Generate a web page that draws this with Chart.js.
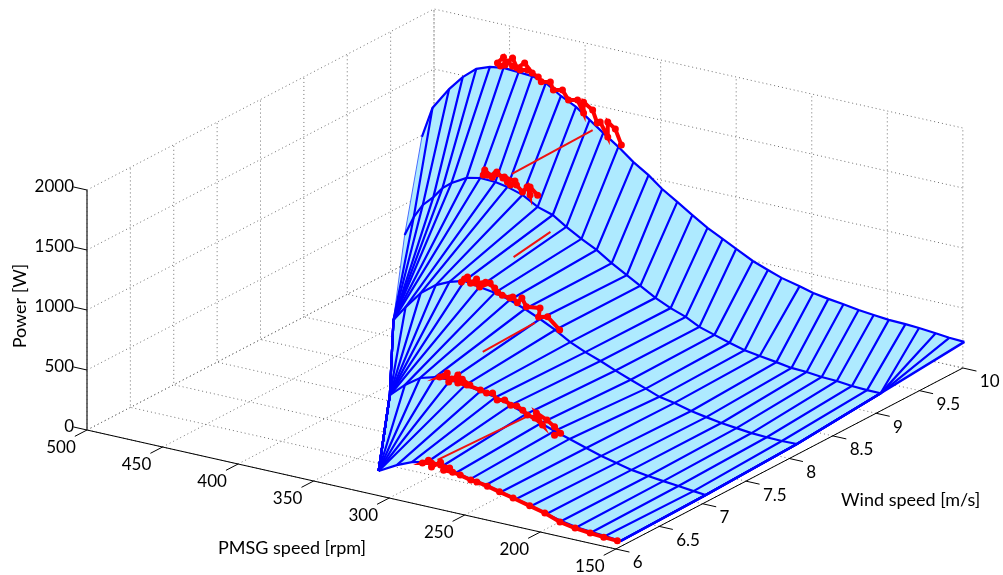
<!DOCTYPE html>
<html>
<head>
<meta charset="utf-8">
<style>
html, body { margin: 0; padding: 0; background: #fff; }
#wrap { width: 1003px; height: 575px; }
</style>
<script src="https://cdn.jsdelivr.net/npm/chart.js@4"></script>
</head>
<body>
<div id="wrap"><canvas id="chart" width="1003" height="575"></canvas></div>
<script>
// tick labels
const rpmTicks = [500, 450, 400, 350, 300, 250, 200, 150];
const windTicks = [6, 6.5, 7, 7.5, 8, 8.5, 9, 9.5, 10];
const powerTicks = [0, 500, 1000, 1500, 2000];

// surface curves, one node per mesh line
const windCurves = [6, 7, 8, 9, 10];
const rpm6 = [307,307,307,307,307,307,307,307,307,307,307,307,307,307,307,307,307,307,307,295,285,275,265,256,246,236,226,216,206,196,186,176,166,157,147,147,147,147];
const power6 = [205,205,205,205,205,205,205,205,205,205,205,205,205,205,205,205,205,205,205,288,341,369,364,333,312,290,260,229,199,161,131,108,95,88,74,74,74,74];
const rpm7 = [357,357,357,357,357,357,357,357,357,357,357,357,357,357,347,337,327,317,307,297,287,277,267,257,248,238,227,217,207,197,186,176,166,156,148,148,148,148];
const power7 = [318,318,318,318,318,318,318,318,318,318,318,318,318,318,432,518,554,558,544,522,500,462,415,368,329,291,246,209,179,149,129,115,102,88,78,78,78,78];
const rpm8 = [412,412,412,412,412,412,412,412,404,394,384,375,365,355,345,335,325,315,305,295,285,275,265,255,245,236,226,215,205,195,185,175,165,155,145,145,145,145];
const power8 = [411,411,411,411,411,411,411,411,542,687,782,834,871,849,828,797,750,695,632,559,504,458,407,359,313,270,248,212,189,168,154,141,135,132,135,135,135,135];
const rpm9 = [462,456,450,443,437,431,421,412,402,394,384,374,364,355,345,335,325,315,306,296,286,276,267,257,247,237,227,216,206,196,186,176,166,156,147,147,147,147];
const power9 = [602,767,886,971,1063,1123,1193,1218,1213,1195,1157,1085,1046,973,901,837,755,683,620,548,491,446,388,350,312,279,259,239,219,214,200,195,182,176,175,175,175,175];
const rpm10 = [508,501,490,481,472,463,454,444,435,426,416,406,397,388,378,368,358,349,339,329,319,309,300,289,279,270,258,249,239,229,219,209,199,188,179,168,159,149];
const power10 = [911,1173,1361,1486,1581,1622,1640,1633,1625,1593,1513,1450,1368,1285,1197,1098,1018,928,849,767,689,625,568,498,451,411,376,344,324,308,288,275,262,258,251,239,226,221];

// measured operating points
const measRpm6 = [260,266,272,278,274,272,266,264,258,253,246,242,235,227,218,207,197,187,177,167,158,149];
const measPower6 = [364,372,372,355,389,338,395,334,334,324,302,298,283,258,232,198,167,120,98,85,76,71];
const measRpm7 = [304,309,316,321,324,319,318,312,312,306,297,293,289,286,281,277,273,269,266,261,256,260,253,248,244,248];
const measPower7 = [553,588,569,579,564,610,538,613,548,548,531,518,530,479,494,462,467,443,410,400,355,445,406,363,322,294];
const measRpm8 = [345,351,358,365,367,363,361,357,355,348,343,340,335,333,330,327,324,315,316,310,302];
const measPower8 = [869,900,873,887,855,908,863,910,849,901,839,823,813,828,787,836,771,787,708,727,641];
const measRpm9 = [389,396,402,407,410,409,404,401,397,394,392,388,384,381,379,379,374];
const measPower9 = [1258,1272,1279,1256,1248,1293,1248,1299,1261,1235,1216,1228,1180,1231,1170,1237,1183];
const measRpm10 = [438,443,448,451,456,458,454,453,448,445,440,435,431,429,423,421,415,411,405,401,401,395,392,390,385,385,380,376];
const measPower10 = [1668,1653,1671,1697,1649,1670,1729,1667,1740,1664,1721,1650,1628,1594,1609,1548,1565,1493,1510,1413,1504,1455,1356,1370,1260,1385,1339,1219];

// wind steps between the measured clusters
const stepWind = [[10, 9], [8.8, 8.2], [7.8, 7.2], [7, 6]];
const stepRpm = [[395, 391], [354, 344], [307, 307], [267, 268]];
const stepPower = [[1288, 1311], [1009, 1053], [760, 745], [390, 408]];

const curveRpm = [rpm6, rpm7, rpm8, rpm9, rpm10];
const curvePower = [power6, power7, power8, power9, power10];
const measRpm = [measRpm6, measRpm7, measRpm8, measRpm9, measRpm10];
const measPower = [measPower6, measPower7, measPower8, measPower9, measPower10];

const TICK_FONT = "17px Lato";
const TITLE_FONT = "18px Lato";

// fixed 3d view of the box, orthographic
function project(rpm, wind, power) {
    return {
        x: 87 + (500 - rpm) * 1.511 + (wind - 6) * 86.75,
        y: 430 + (500 - rpm) * 0.34 - (wind - 6) * 45.25 - power * 0.12
    };
}

var datasets = [];
function addLine(points, color, width, extra) {
    datasets.push(Object.assign({
        data: points,
        showLine: true,
        borderColor: color,
        borderWidth: width,
        pointRadius: 0,
        tension: 0,
        fill: false
    }, extra || {}));
}

// grid on the floor and the two back walls
var rpmMax = rpmTicks[0], rpmMin = rpmTicks[rpmTicks.length - 1];
var windMin = windTicks[0], windMax = windTicks[windTicks.length - 1];
var powerMax = powerTicks[powerTicks.length - 1];
var dots = { borderDash: [1, 3] };
rpmTicks.forEach(s => {
    addLine([project(s, windMin, 0), project(s, windMax, 0), project(s, windMax, powerMax)], "#707070", 1, dots);
});
windTicks.forEach(w => {
    addLine([project(rpmMin, w, 0), project(rpmMax, w, 0), project(rpmMax, w, powerMax)], "#707070", 1, dots);
});
powerTicks.forEach(p => {
    addLine([project(rpmMax, windMin, p), project(rpmMax, windMax, p), project(rpmMin, windMax, p)], "#707070", 1, dots);
});

// axes and tick marks
addLine([project(rpmMax, windMin, 0), project(rpmMin, windMin, 0), project(rpmMin, windMax, 0)], "#000", 1);
addLine([project(rpmMax, windMin, 0), project(rpmMax, windMin, powerMax)], "#444", 1.5);
rpmTicks.forEach(s => addLine([project(s, windMin, 0), project(s, windMin - 0.14, 0)], "#000", 1));
windTicks.forEach(w => addLine([project(rpmMin, w, 0), project(rpmMin - 9, w, 0)], "#000", 1));
powerTicks.forEach(p => addLine([project(rpmMax, windMin, p), project(rpmMax + 9, windMin, p)], "#000", 1));

// surface fill
var outline = [];
rpm6.forEach((s, i) => outline.push(project(s, 6, power6[i])));
[1, 2, 3].forEach(c => outline.push(project(curveRpm[c][37], windCurves[c], curvePower[c][37])));
for (var i = 37; i >= 0; i--) outline.push(project(rpm10[i], 10, power10[i]));
[3, 2, 1].forEach(c => outline.push(project(curveRpm[c][0], windCurves[c], curvePower[c][0])));
addLine(outline, "rgba(0,0,0,0)", 0, { fill: "shape", backgroundColor: "#aeeaff" });

// mesh lines across the wind speeds
rpm10.forEach((_, i) => {
    var pts = windCurves.map((w, c) => project(curveRpm[c][i], w, curvePower[c][i]));
    addLine(pts, i === 0 ? "#4a6cff" : "#0000ff", i === 0 ? 1 : (i === 37 ? 2.5 : 2.2));
});

// curves at constant wind speed
windCurves.forEach((w, c) => {
    addLine(curveRpm[c].map((s, i) => project(s, w, curvePower[c][i])), "#0000ff", 2.2);
});

// measured points
stepWind.forEach((w, k) => {
    addLine([project(stepRpm[k][0], w[0], stepPower[k][0]), project(stepRpm[k][1], w[1], stepPower[k][1])], "#f01010", 2);
});
windCurves.forEach((w, c) => {
    addLine(measRpm[c].map((s, i) => project(s, w, measPower[c][i])), "#ff0000", 4, {
        pointRadius: 3.5,
        pointBackgroundColor: "#ff0000",
        pointBorderWidth: 0
    });
});

// first dataset in the list is painted first
datasets.forEach((d, i) => { d.order = datasets.length - i; });

// tick labels and axis titles, placed through the chart's scales
const boxLabels = {
    id: "boxLabels",
    afterDraw(chart) {
        var ctx = chart.ctx, sx = chart.scales.x, sy = chart.scales.y;
        function put(text, p, dx, dy, align) {
            ctx.textAlign = align;
            ctx.fillText(text, sx.getPixelForValue(p.x) + dx, sy.getPixelForValue(p.y) + dy);
        }
        ctx.save();
        ctx.font = TICK_FONT;
        ctx.fillStyle = "#000";
        ctx.textBaseline = "middle";
        rpmTicks.forEach(s => put(String(s), project(s, windMin, 0), -26, 18, "center"));
        windTicks.forEach(w => put(String(w), project(rpmMin, w, 0), 17, 14, "left"));
        powerTicks.forEach(p => put(String(p), project(rpmMax, windMin, p), -13, -3, "right"));
        ctx.font = TITLE_FONT;
        ctx.textAlign = "left";
        ctx.fillText("PMSG speed [rpm]", 218, 548);
        ctx.fillText("Wind speed [m/s]", 841, 500);
        ctx.translate(20, 306);
        ctx.rotate(-Math.PI / 2);
        ctx.textAlign = "center";
        ctx.fillText("Power [W]", 0, 0);
        ctx.restore();
    }
};

new Chart(document.getElementById("chart"), {
    type: "scatter",
    data: { datasets: datasets },
    plugins: [boxLabels],
    options: {
        responsive: false,
        animation: false,
        layout: { padding: 0, autoPadding: false },
        plugins: { legend: { display: false }, tooltip: { enabled: false } },
        scales: {
            x: { type: "linear", min: 0, max: 1003, display: false },
            y: { type: "linear", min: 0, max: 575, reverse: true, display: false }
        }
    }
});
</script>
</body>
</html>
